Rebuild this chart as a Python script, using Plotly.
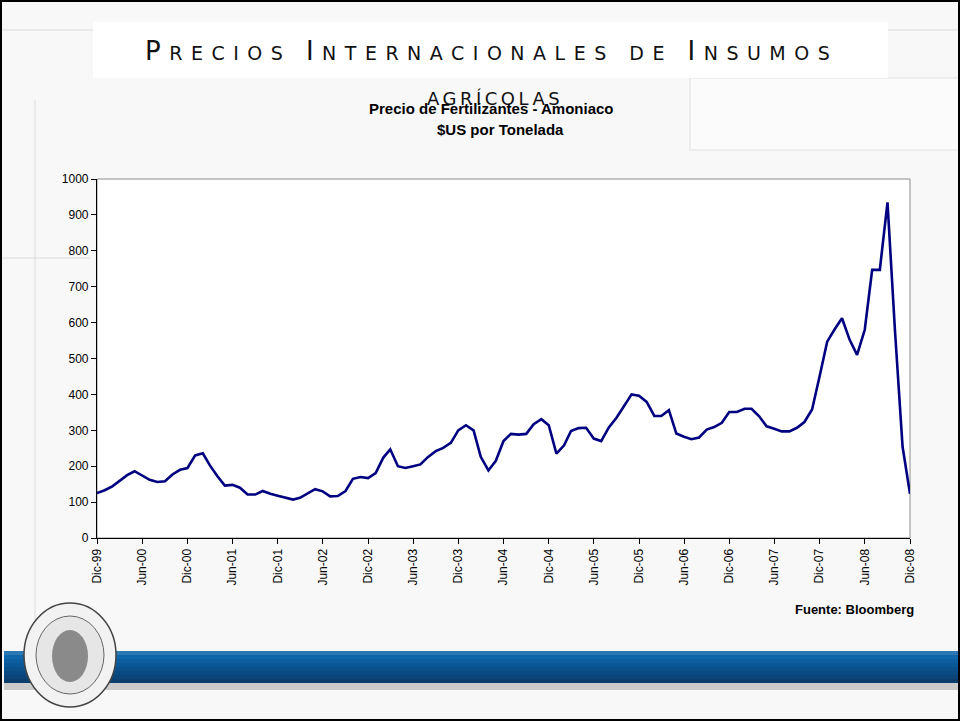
import pandas as pd
import plotly.graph_objects as go

# Precio mensual del amoniaco, Dic-99 a Dic-08 ($US por tonelada)
meses = pd.date_range("1999-12-01", periods=109, freq="MS")
precio = [
    125, 133, 144, 158, 175, 186, 173, 162, 156, 158, 177, 190,
    195, 230, 236, 203, 172, 146, 148, 140, 121, 121, 131, 123,
    118, 112, 107, 112, 125, 136, 130, 116, 117, 131, 165, 170,
    167, 181, 224, 247, 200, 195, 200, 205, 226, 242, 251, 265,
    300, 314, 300, 226, 188, 215, 270, 290, 288, 290, 317, 331,
    314, 235, 258, 298, 306, 307, 277, 270, 308, 335, 367, 400,
    396, 379, 340, 340, 356, 291, 282, 275, 280, 302, 309, 321,
    351, 351, 360, 360, 339, 311, 304, 297, 297, 307, 323, 358,
    449, 547, 582, 612, 552, 510, 580, 747, 747, 935, 580, 254,
    123,
]
etiquetas = ["Dic-99", "Jun-00", "Dic-00", "Jun-01", "Dic-01", "Jun-02", "Dic-02",
             "Jun-03", "Dic-03", "Jun-04", "Dic-04", "Jun-05", "Dic-05", "Jun-06",
             "Dic-06", "Jun-07", "Dic-07", "Jun-08", "Dic-08"]

W, H = 960, 721
L, R, T, B = 97, 50, 179, 183
PW, PH = W - L - R, H - T - B


def px(x):
    return (x - L) / PW


def py(y):
    return (H - B - y) / PH


def versalitas(texto, grande, chica, esp):
    # mayusculas del texto a tamano grande, minusculas como versalitas
    partes = []
    for letra in texto:
        tam = grande if letra.isupper() else chica
        partes.append(f"<span style='font-size:{tam}px;letter-spacing:{esp}px'>{letra.upper()}</span>")
    return "".join(partes)


fig = go.Figure()
fig.add_trace(go.Scatter(x=meses, y=precio, mode="lines",
                         line=dict(color="#000080", width=2.6), hoverinfo="skip"))

shapes = []
gris = "rgba(200,200,200,0.6)"
# decoraciones tenues de la diapositiva
shapes.append(dict(type="line", xref="paper", yref="paper", x0=px(0), x1=px(W), y0=py(30), y1=py(30),
                   line=dict(color=gris, width=1), layer="below"))
shapes.append(dict(type="line", xref="paper", yref="paper", x0=px(35), x1=px(35), y0=py(100), y1=py(640),
                   line=dict(color=gris, width=1), layer="below"))
shapes.append(dict(type="line", xref="paper", yref="paper", x0=px(0), x1=px(90), y0=py(258), y1=py(258),
                   line=dict(color=gris, width=1), layer="below"))
shapes.append(dict(type="rect", xref="paper", yref="paper", x0=px(690), x1=px(962), y0=py(78), y1=py(150),
                   line=dict(color="rgba(215,215,215,0.7)", width=1), fillcolor="#fbfbfb", layer="below"))
# caja blanca del titulo
shapes.append(dict(type="rect", xref="paper", yref="paper", x0=px(93), x1=px(888), y0=py(22), y1=py(78),
                   line=dict(width=0), fillcolor="white", layer="below"))
# marco gris superior/derecho del area de trazado
shapes.append(dict(type="rect", xref="x domain", yref="y domain", x0=0, x1=1, y0=0, y1=1,
                   line=dict(color="#8c8c8c", width=1), fillcolor="white", layer="below"))
# sombra y barra azul inferior
shapes.append(dict(type="rect", xref="paper", yref="paper", x0=px(4), x1=px(960), y0=py(683), y1=py(690),
                   line=dict(width=0), fillcolor="rgba(120,120,120,0.35)", layer="above"))
azules = ["#2a78b6", "#0f66a8", "#0c5e9e", "#0b5896", "#0a518c", "#0a4a82", "#0a4478", "#0b3e6d"]
y0 = 651
for c in azules:
    shapes.append(dict(type="rect", xref="paper", yref="paper", x0=px(4), x1=px(960), y0=py(y0), y1=py(y0 + 4),
                       line=dict(width=0), fillcolor=c, layer="above"))
    y0 += 4
# sello del banco
shapes.append(dict(type="circle", xref="paper", yref="paper", x0=px(24), x1=px(116), y0=py(603), y1=py(707),
                   line=dict(color="#444", width=1.5), fillcolor="#f2f2f2", layer="above"))
shapes.append(dict(type="circle", xref="paper", yref="paper", x0=px(36), x1=px(104), y0=py(616), y1=py(694),
                   line=dict(color="#666", width=1), fillcolor="#e6e6e6", layer="above"))
shapes.append(dict(type="circle", xref="paper", yref="paper", x0=px(52), x1=px(88), y0=py(630), y1=py(682),
                   line=dict(width=0), fillcolor="#8a8a8a", layer="above"))
# borde negro de la imagen
shapes.append(dict(type="rect", xref="paper", yref="paper", x0=px(1), x1=px(959), y0=py(1), y1=py(720),
                   line=dict(color="black", width=2), layer="above"))

annotations = [
    dict(text=versalitas("Precios Internacionales de Insumos", 26, 19, 8.5),
         x=px(491), y=py(51), xref="paper", yref="paper", showarrow=False,
         font=dict(family="DejaVu Sans", color="#111"), xanchor="center", yanchor="middle"),
    dict(text=versalitas("agrícolas", 26, 18, 3.5),
         x=px(495), y=py(98), xref="paper", yref="paper", showarrow=False,
         font=dict(family="DejaVu Sans", color="#111"), xanchor="center", yanchor="middle"),
    dict(text="<b>Precio de Fertilizantes - Amoniaco</b>", x=px(491), y=py(108), xref="paper", yref="paper",
         showarrow=False, font=dict(family="Liberation Sans", size=15, color="black"),
         xanchor="center", yanchor="middle"),
    dict(text="<b>$US por Tonelada</b>", x=px(500), y=py(129), xref="paper", yref="paper",
         showarrow=False, font=dict(family="Liberation Sans", size=15, color="black"),
         xanchor="center", yanchor="middle"),
    dict(text="<b>Fuente: Bloomberg</b>", x=px(916), y=py(609), xref="paper", yref="paper",
         showarrow=False, font=dict(family="Liberation Sans", size=13, color="black"),
         xanchor="right", yanchor="middle"),
]

fig.update_layout(
    width=W, height=H,
    margin=dict(l=L, r=R, t=T, b=B, autoexpand=False),
    paper_bgcolor="#f8f8f8",
    plot_bgcolor="white",
    showlegend=False,
    shapes=shapes,
    annotations=annotations,
    font=dict(family="Liberation Sans", size=12, color="black"),
)
fig.update_xaxes(
    range=[meses[0], meses[-1]], tickvals=list(meses[::6]), ticktext=etiquetas,
    tickangle=-90, ticks="outside", ticklen=5, tickcolor="black",
    showline=True, linecolor="black", linewidth=1.2, showgrid=False, zeroline=False,
    tickfont=dict(family="Liberation Sans", size=12),
)
fig.update_yaxes(
    range=[0, 1000], dtick=100, ticks="outside", ticklen=5, tickcolor="black",
    showline=True, linecolor="black", linewidth=1.2, showgrid=False, zeroline=False,
    tickfont=dict(family="Liberation Sans", size=12),
)

fig.write_html("out.html", config={"displayModeBar": False},
               post_script="document.body.style.margin='0px';")
